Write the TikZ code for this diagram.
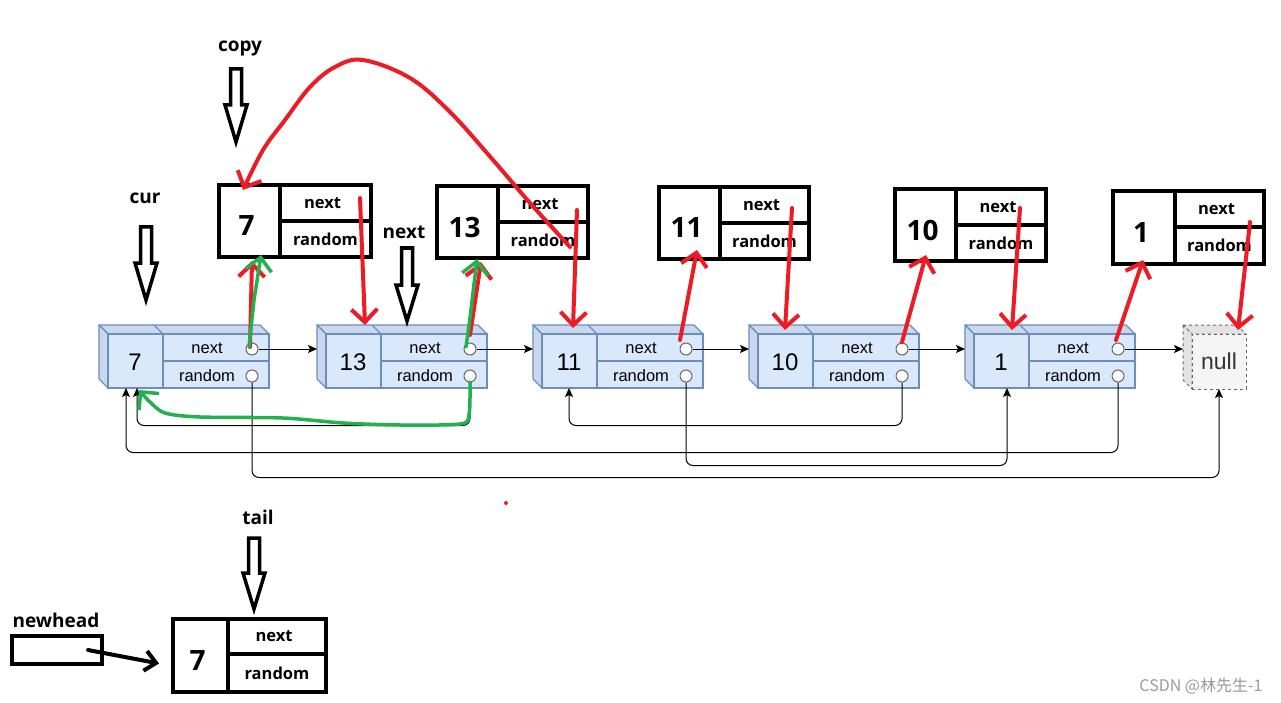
\documentclass[tikz,border=0pt]{standalone}
\usepackage{fontspec}
\setmainfont{Open Sans}
\newfontfamily\bfont{Liberation Sans}
\newfontfamily\cjk{Noto Sans CJK SC}
\usetikzlibrary{arrows.meta,calc}
\definecolor{bfill}{HTML}{DAE8FC}
\definecolor{bline}{HTML}{6C8EBF}
\definecolor{btop}{HTML}{C9D8EE}
\definecolor{nfill}{HTML}{F5F5F5}
\definecolor{nline}{HTML}{666666}
\definecolor{ntop}{HTML}{E3E3E3}
\definecolor{penred}{HTML}{ED1C24}
\definecolor{pengreen}{HTML}{22B14C}
\definecolor{wm}{HTML}{9A9A9A}
\tikzset{
  bfront/.style={draw=bline, fill=bfill, line width=1.2pt, minimum width=161pt, minimum height=54pt, anchor=north west, inner sep=0, outer sep=0},
  bface/.style={draw=bline, fill=btop, line width=1.2pt, line join=round},
  bsep/.style={draw=bline, line width=1.2pt},
  btxt/.style={font=\bfont\fontsize{16.5}{18}\selectfont, inner sep=0},
  bval/.style={font=\bfont\fontsize{24}{26}\selectfont, inner sep=0},
  port/.style={circle, draw=nline, fill=white, line width=1pt, minimum size=12pt, inner sep=0},
  link/.style={-{Stealth[length=9pt,width=8pt,inset=2pt]}, line width=1pt, black},
  rnd/.style={link, rounded corners=7pt},
  cbox/.style={draw, line width=4pt, anchor=north west, inner sep=0, outer sep=0},
  ctxt/.style={font=\bfseries\fontsize{16.5}{18}\selectfont, inner sep=0},
  cval/.style={font=\bfseries\fontsize{28}{30}\selectfont, inner sep=0},
  lbl/.style={font=\bfseries\fontsize{19}{21}\selectfont, inner sep=0},
  ptr/.style={draw, line width=3.5pt, fill=white},
  redpen/.style={draw=penred, line width=4pt, line cap=round, line join=round},
  greenpen/.style={draw=pengreen, line width=3.5pt, line cap=round, line join=round},
  penhead/.style={-{Straight Barb[length=13pt,width=26pt]}},
}
\newcommand\bluenode[3]{%
  \path[bface] ({#2-9},325) -- ({#2+152},325) -- ({#2+161},334) -- (#2,334) -- cycle;
  \path[bface] ({#2-9},325) -- (#2,334) -- (#2,388) -- ({#2-9},379) -- cycle;
  \draw[bsep] ({#2+46},325) -- ({#2+55},334);
  \node[bfront] (#1) at (#2,334) {};
  \draw[bsep] ({#2+55},334) -- ({#2+55},388);
  \draw[bsep] ({#2+55},361) -- ({#2+161},361);
  \node[bval] (#1v) at ({#2+27},362) {#3};
  \node[btxt] (#1t) at ({#2+99},348) {next};
  \node[btxt] (#1u) at ({#2+99},376) {random};
  \node[port] (#1n) at ({#2+144},349) {};
  \node[port] (#1r) at ({#2+144},376) {};
}
\newcommand\copybox[8]{%
  \node[cbox, minimum width={#4pt-#2pt}, minimum height={#5pt-#3pt}] (#1) at (#2,#3) {};
  \draw[line width=4pt] (#6,#3) -- (#6,#5);
  \draw[line width=4pt] (#6,#7) -- (#4,#7);
  \node[cval] (#1v) at ({(#2+#6)/2-3},{(#3+#5)/2+5}) {#8};
  \node[ctxt] (#1n) at ({(#6+#4)/2-3},{(#3+#7)/2}) {next};
  \node[ctxt] (#1r) at ({(#6+#4)/2},{(#7+#5)/2}) {random};
}
\newcommand\hollowptr[4]{% x, top, headtop, tip
  \path[ptr] ({#1-5.5},#2) -- ({#1+5.5},#2) -- ({#1+5.5},#3) -- ({#1+11},#3) -- (#1,#4) -- ({#1-11},#3) -- ({#1-5.5},#3) -- cycle;
}
\begin{document}
\begin{tikzpicture}[x=1pt,y=-1pt]
\path[use as bounding box, fill=white] (0,0) rectangle (1281,703);

% blue original list
\bluenode{n1}{108}{7}
\bluenode{n2}{326}{13}
\bluenode{n3}{542}{11}
\bluenode{n4}{758}{10}
\bluenode{n5}{974}{1}
% null node
\path[draw=nline, fill=ntop, line width=1pt, dashed] (1183,325) -- (1237,325) -- (1246,334) -- (1192,334) -- cycle;
\path[draw=nline, fill=ntop, line width=1pt, dashed] (1183,325) -- (1192,334) -- (1192,389) -- (1183,380) -- cycle;
\node[draw=nline, fill=nfill, dashed, line width=1pt, minimum width=54pt, minimum height=55pt, anchor=north west, inner sep=0, outer sep=0] (nl) at (1192,334) {};
\node[font=\bfont\fontsize{23}{25}\selectfont, text=black!80, inner sep=0] (nlt) at (nl.center) {null};

% next links
\draw[link] (n1n.east) -- ([xshift=-9pt]n2.west |- n1n);
\draw[link] (n2n.east) -- ([xshift=-9pt]n3.west |- n2n);
\draw[link] (n3n.east) -- ([xshift=-9pt]n4.west |- n3n);
\draw[link] (n4n.east) -- ([xshift=-9pt]n5.west |- n4n);
\draw[link] (n5n.east) -- ([xshift=-9pt]nl.west |- n5n);

% random links
\draw[rnd] (n1r.south) -- ++(0,95) -| (nl.south);
\draw[rnd] (n5r.south) -- ++(0,70) -| ([xshift=-9pt]n1v |- n1.south);
\draw[rnd] (n3r.south) -- ++(0,83) -| ([xshift=6pt]n5v |- n5.south);
\draw[rnd] (n2r.south) -- ++(0,43) -| ([xshift=2pt]n1v |- n1.south);
\draw[rnd] (n4r.south) -- ++(0,43) -| (n3v |- n3.south);

% copied nodes
\copybox{c1}{219}{185}{371}{257}{280}{221}{7}
\copybox{c2}{437}{186}{588}{258}{498}{222}{13}
\copybox{c3}{659}{187}{809}{259}{720}{223}{11}
\copybox{c4}{895}{189}{1046}{261}{956}{225}{10}
\copybox{c5}{1113}{191}{1264}{264}{1175}{227}{1}
\copybox{cb}{173}{619}{326}{692}{228}{654}{7}

% pointers
\node[lbl] (lcopy) at (240,49) {copy};
\hollowptr{236}{69}{105}{142}
\node[lbl] (lcur) at (145,198) {cur};
\hollowptr{146}{227}{263}{300}
\node[lbl] (lnext) at (404,232) {next};
\hollowptr{407}{248}{285}{321}
\node[lbl] (ltail) at (258,517) {tail};
\hollowptr{254}{538}{573}{609}
\node[lbl] (lnh) at (56,620) {newhead};
\node[draw, line width=4pt, minimum width=90pt, minimum height=28pt, inner sep=0, outer sep=0] (nh) at (57,650) {};
\coordinate (nhp) at (88,650);
\draw[line width=4pt, line cap=round, -{Straight Barb[length=11pt,width=20pt]}] (nhp) -- ([xshift=-14pt,yshift=-8pt]cb.west);

% hand drawn red strokes
\draw[redpen, penhead] (360,198) -- (365,325);
\draw[redpen, penhead] (250,347) -- (252,261);
\draw[redpen, penhead] plot[smooth, tension=0.6] coordinates {(570,247) (530,203) (493,160) (450,112) (410,78) (363,60) (335,67) (310,87) (285,120) (263,150) (243,190)};
\draw[redpen, penhead] (577,210) -- (573,328);
\draw[redpen, penhead] (470,335) -- (481,262);
\draw[redpen, penhead] (680,340) -- (697,250);
\draw[redpen, penhead] (792,208) -- (785,330);
\draw[redpen, penhead] (902,342) -- (926,255);
\draw[redpen, penhead] (1020,208) -- (1012,330);
\draw[redpen, penhead] (1116,340) -- (1143,260);
\draw[redpen, penhead] (1250,222) -- (1238,330);
\fill[penred] (506,503) circle (2);

% hand drawn green strokes
\draw[greenpen, penhead] (249,347) -- (254,300) -- (261,255);
\draw[greenpen, penhead] (466,347) -- (470,318) -- (477,259);
\draw[greenpen, penhead] plot[smooth, tension=0.5] coordinates {(470,382) (469,415) (460,424) (400,425) (343,423) (283,418) (200,417) (165,413) (150,402) (139,390)};

% watermark
\node[font=\cjk\fontsize{16}{18}\selectfont, text=wm, inner sep=0] (wm) at (1201,686) {CSDN @林先生-1};
\end{tikzpicture}
\end{document}
